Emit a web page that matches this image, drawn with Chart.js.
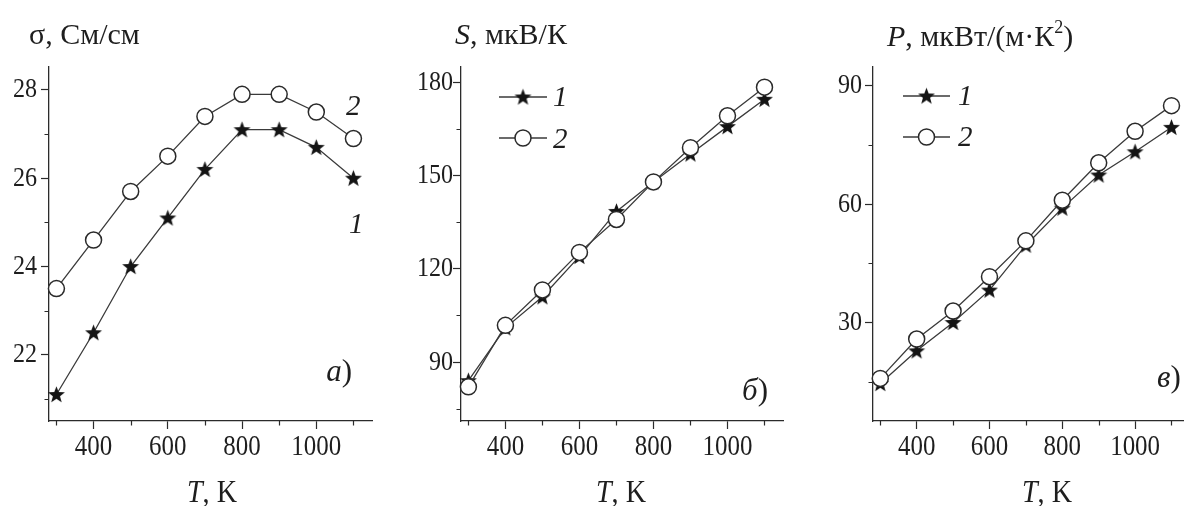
<!DOCTYPE html>
<html>
<head>
<meta charset="utf-8">
<script src="https://cdn.jsdelivr.net/npm/chart.js@4"></script>
<style>
  html, body { margin: 0; padding: 0; background: #fff; overflow: hidden; width: 1184px; height: 506px; }
  canvas { position: absolute; top: 0; }
</style>
</head>
<body>
<canvas id="chartA" width="390" height="506" style="left:0px"></canvas>
<canvas id="chartB" width="400" height="506" style="left:400px"></canvas>
<canvas id="chartC" width="400" height="506" style="left:800px"></canvas>
<script>
// temperatures, K
const temps = [300, 400, 500, 600, 700, 800, 900, 1000, 1100];

// a) conductivity, См/см
const sigma1 = [21.1, 22.5, 24.0, 25.1, 26.2, 27.1, 27.1, 26.7, 26.0];
const sigma2 = [23.5, 24.6, 25.7, 26.5, 27.4, 27.9, 27.9, 27.5, 26.9];

// б) Seebeck coefficient, мкВ/К
const seebeck1 = [84, 101, 111, 124, 138.5, 148, 157, 165.8, 174.6];
const seebeck2 = [82, 101.8, 113.2, 125.3, 135.9, 148, 159, 169.3, 178.5];

// в) power factor, мкВт/(м·К²)
const power1 = [14.5, 22.8, 30, 38.2, 49.6, 59, 67.4, 73.3, 79.5];
const power2 = [15.8, 25.8, 32.9, 41.6, 50.7, 61, 70.5, 78.5, 85];

// tick values
const xMajor = [400, 600, 800, 1000];
const xMinor = [300, 500, 700, 900, 1100];
const sigmaMajor = [22, 24, 26, 28];
const sigmaMinor = [21, 23, 25, 27];
const seebeckMajor = [90, 120, 150, 180];
const seebeckMinor = [75, 105, 135, 165];
const powerMajor = [30, 60, 90];
const powerMinor = [15, 45, 75];

const serif = '"Liberation Serif", "DejaVu Serif", serif';
const axisColor = '#2b2b2b';
const lineColor = '#3a3a3a';
const textColor = '#1e1e1e';

// filled five-point star used as point style
function makeStar(size) {
  const c = document.createElement('canvas');
  c.width = size; c.height = size;
  const g = c.getContext('2d');
  const cx = size / 2, cy = size / 2 + 0.6, ro = size / 2 - 0.6, ri = ro * 0.42;
  g.beginPath();
  for (let i = 0; i < 10; i++) {
    const r = i % 2 === 0 ? ro : ri;
    const ang = -Math.PI / 2 + i * Math.PI / 5;
    const px = cx + r * Math.cos(ang), py = cy + r * Math.sin(ang);
    if (i === 0) g.moveTo(px, py); else g.lineTo(px, py);
  }
  g.closePath();
  g.fillStyle = '#141414';
  g.fill();
  return c;
}
const star = makeStar(19);

// text made of parts with different styles, sx = horizontal scale
function drawRich(ctx, parts, x, y, align, size, sx) {
  sx = sx || 1;
  const fontOf = p => (p.i ? 'italic ' : '') + (p.sup ? Math.round(size * 0.6) : size) + 'px ' + serif;
  let total = 0;
  parts.forEach(p => { ctx.font = fontOf(p); total += ctx.measureText(p.t).width; });
  ctx.save();
  ctx.translate(x, y);
  ctx.scale(sx, 1);
  let cx = align === 'center' ? -total / 2 : align === 'right' ? -total : 0;
  ctx.fillStyle = textColor;
  ctx.textBaseline = 'alphabetic';
  ctx.textAlign = 'left';
  parts.forEach(p => {
    ctx.font = fontOf(p);
    ctx.fillText(p.t, cx, p.sup ? -size * 0.42 : 0);
    cx += ctx.measureText(p.t).width;
  });
  ctx.restore();
}

const xTitle = [{ t: 'T', i: true }, { t: ', K' }];

function panelPlugin(p) {
  return {
    id: 'panelText',
    afterDraw(chart) {
      const ctx = chart.ctx, a = chart.chartArea;
      const xs = chart.scales.x, ys = chart.scales.y;
      ctx.save();
      // minor ticks
      ctx.strokeStyle = axisColor;
      ctx.lineWidth = 1.2;
      ctx.beginPath();
      xMinor.forEach(v => {
        const px = Math.round(xs.getPixelForValue(v)) + 0.5;
        ctx.moveTo(px, a.bottom); ctx.lineTo(px, a.bottom + 4.5);
      });
      p.yMinor.forEach(v => {
        const py = Math.round(ys.getPixelForValue(v)) + 0.5;
        ctx.moveTo(a.left, py); ctx.lineTo(a.left - 4.5, py);
      });
      ctx.stroke();

      // tick labels (narrow serif, as in the figure)
      xMajor.forEach(v => {
        drawRich(ctx, [{ t: String(v) }], xs.getPixelForValue(v), 455, 'center', 29, 0.86);
      });
      p.yMajor.forEach(v => {
        drawRich(ctx, [{ t: String(v) }], a.left - p.yLabelGap, ys.getPixelForValue(v) + 7.5, 'right', 28, 0.86);
      });

      drawRich(ctx, p.yTitle, p.yTitlePos[0], p.yTitlePos[1], 'left', 30);
      drawRich(ctx, xTitle, p.xTitleX, 502, 'center', 32, 0.88);
      drawRich(ctx, p.letter, p.letterPos[0], p.letterPos[1], p.letterAlign, 31);

      if (p.curveLabels) {
        p.curveLabels.forEach(l => drawRich(ctx, [{ t: l.t, i: true }], l.x, l.y, 'left', 29));
      }
      if (p.legend) {
        const L = p.legend;
        [0, 1].forEach(k => {
          const y = L.y[k];
          ctx.strokeStyle = lineColor;
          ctx.lineWidth = 1.3;
          ctx.beginPath();
          ctx.moveTo(L.x0, y); ctx.lineTo(L.x1, y);
          ctx.stroke();
          const mx = (L.x0 + L.x1) / 2;
          if (k === 0) {
            ctx.drawImage(star, mx - star.width / 2, y - star.height / 2);
          } else {
            ctx.beginPath();
            ctx.arc(mx, y, 8, 0, Math.PI * 2);
            ctx.fillStyle = '#fff';
            ctx.fill();
            ctx.lineWidth = 1.5;
            ctx.strokeStyle = '#2a2a2a';
            ctx.stroke();
          }
          drawRich(ctx, [{ t: String(k + 1), i: true }], L.labelX, L.labelY[k], 'left', 29);
        });
      }
      ctx.restore();
    }
  };
}

function makeChart(p) {
  const ctx = document.getElementById(p.id).getContext('2d');
  return new Chart(ctx, {
    type: 'line',
    data: {
      datasets: [
        {
          label: '1',
          data: temps.map((t, i) => ({ x: t, y: p.s1[i] })),
          borderColor: lineColor,
          borderWidth: 1.3,
          pointStyle: star,
          pointRadius: 9,
          clip: false,
          order: 1
        },
        {
          label: '2',
          data: temps.map((t, i) => ({ x: t, y: p.s2[i] })),
          borderColor: lineColor,
          borderWidth: 1.3,
          pointStyle: 'circle',
          pointRadius: 8,
          pointBackgroundColor: '#fff',
          pointBorderColor: '#2a2a2a',
          pointBorderWidth: 1.5,
          clip: false,
          order: 0
        }
      ]
    },
    options: {
      responsive: false,
      animation: false,
      events: [],
      layout: { padding: { top: 67, right: p.padRight, left: 0, bottom: 0 } },
      plugins: { legend: { display: false }, tooltip: { enabled: false } },
      scales: {
        x: {
          type: 'linear',
          min: 280,
          max: 1150,
          afterBuildTicks: s => { s.ticks = xMajor.map(v => ({ value: v })); },
          afterFit: s => { s.height = 506 - 421; },
          border: { display: true, color: axisColor, width: 1.3 },
          grid: { drawOnChartArea: false, drawTicks: true, tickLength: 8, tickColor: axisColor, tickWidth: 1.2 },
          ticks: { display: false }
        },
        y: {
          type: 'linear',
          min: p.yMin,
          max: p.yMax,
          afterBuildTicks: s => { s.ticks = p.yMajor.map(v => ({ value: v })); },
          afterFit: s => { s.width = p.axisW; },
          border: { display: true, color: axisColor, width: 1.3 },
          grid: { drawOnChartArea: false, drawTicks: true, tickLength: 8, tickColor: axisColor, tickWidth: 1.2 },
          ticks: { display: false }
        }
      }
    },
    plugins: [panelPlugin(p)]
  });
}

makeChart({
  id: 'chartA', s1: sigma1, s2: sigma2,
  yMin: 20.5, yMax: 28.52, yMajor: sigmaMajor, yMinor: sigmaMinor,
  axisW: 49, padRight: 18, yLabelGap: 12,
  yTitle: [{ t: 'σ, См/см' }], yTitlePos: [29, 44],
  xTitleX: 212,
  letter: [{ t: 'а', i: true }, { t: ')' }], letterPos: [352, 381], letterAlign: 'right',
  curveLabels: [{ t: '2', x: 346, y: 115 }, { t: '1', x: 349, y: 233 }]
});

makeChart({
  id: 'chartB', s1: seebeck1, s2: seebeck2,
  yMin: 71, yMax: 185, yMajor: seebeckMajor, yMinor: seebeckMinor,
  axisW: 61, padRight: 17, yLabelGap: 8,
  yTitle: [{ t: 'S', i: true }, { t: ', мкВ/К' }], yTitlePos: [55, 44],
  xTitleX: 221,
  letter: [{ t: 'б', i: true }, { t: ')' }], letterPos: [368, 400], letterAlign: 'right',
  legend: { x0: 99, x1: 147, y: [97, 138], labelX: 153, labelY: [106, 148] }
});

makeChart({
  id: 'chartC', s1: power1, s2: power2,
  yMin: 5, yMax: 94.8, yMajor: powerMajor, yMinor: powerMinor,
  axisW: 73, padRight: 4, yLabelGap: 11,
  yTitle: [{ t: 'P', i: true }, { t: ', мкВт/(м·К' }, { t: '2', sup: true }, { t: ')' }], yTitlePos: [87, 46],
  xTitleX: 247,
  letter: [{ t: 'в', i: true }, { t: ')' }], letterPos: [357, 387], letterAlign: 'left',
  legend: { x0: 103, x1: 150, y: [96, 137], labelX: 158, labelY: [105, 146] }
});
</script>
</body>
</html>
